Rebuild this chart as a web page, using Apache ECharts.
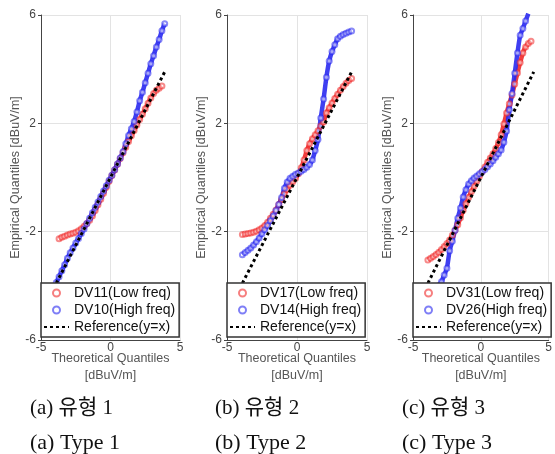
<!DOCTYPE html>
<html><head><meta charset="utf-8">
<script src="https://cdn.jsdelivr.net/npm/echarts@6/dist/echarts.min.js"></script>
<style>html,body{margin:0;padding:0;background:#fff}#c{width:555px;height:454px}</style>
</head><body><div id="c"></div>
<script>
// Theoretical quantiles (shared x positions)
const qx = [-3.9,-3.7,-3.5,-3.3,-3.1,-2.9,-2.7,-2.5,-2.3,-2.1,-1.9,-1.7,-1.5,-1.3,-1.1,-0.9,-0.7,-0.5,-0.3,-0.1,
             0.1,0.3,0.5,0.7,0.9,1.1,1.3,1.5,1.7,1.9,2.1,2.3,2.5,2.7,2.9,3.1,3.3,3.5,3.7,3.9];
// Empirical quantiles
const p1Low  = [null,-2.26,-2.21,-2.17,-2.12,-2.09,-2.06,-2.02,-1.97,-1.89,-1.80,-1.70,-1.58,-1.42,-1.22,-1.01,-0.80,-0.58,-0.36,-0.14,
                0.07,0.28,0.49,0.70,0.91,1.12,1.33,1.54,1.74,1.94,2.14,2.34,2.54,2.74,2.94,3.10,3.22,3.30,3.38,null];
const p1High = [-3.88,-3.66,-3.44,-3.22,-2.98,-2.78,-2.60,-2.42,-2.25,-2.07,-1.90,-1.70,-1.50,-1.30,-1.10,-0.90,-0.70,-0.50,-0.30,-0.10,
                0.08,0.29,0.50,0.72,0.95,1.25,1.55,1.80,2.07,2.42,2.83,3.15,3.50,3.85,4.20,4.50,4.82,5.10,5.42,5.68];
const p2Low  = [-2.10,-2.09,-2.07,-2.05,-2.02,-1.98,-1.93,-1.86,-1.77,-1.65,-1.50,-1.36,-1.20,-1.00,-0.81,-0.60,-0.44,-0.29,-0.16,-0.03,
                0.14,0.36,0.65,1.00,1.25,1.43,1.58,1.73,1.90,2.05,2.38,2.58,2.75,2.92,3.07,3.22,3.36,3.48,3.58,3.66];
const p2High = [-2.85,-2.77,-2.69,-2.60,-2.49,-2.37,-2.23,-2.08,-1.93,-1.77,-1.60,-1.42,-1.22,-1.00,-0.74,-0.40,-0.17,-0.03,0.05,0.12,
                0.17,0.23,0.30,0.38,0.48,0.65,1.00,1.40,2.20,2.90,3.70,4.30,4.65,4.90,5.12,5.22,5.28,5.33,5.37,5.41];
const p3Low  = [-3.05,-2.98,-2.92,-2.84,-2.76,-2.66,-2.55,-2.44,-2.31,-2.13,-1.95,-1.74,-1.49,-1.21,-0.97,-0.74,-0.53,-0.33,-0.14,0.05,
                0.22,0.39,0.56,0.72,0.88,1.07,1.29,1.58,1.98,2.38,2.72,3.05,3.45,3.86,4.25,4.60,4.82,4.95,5.03,null];
const p3High = [-5.30,-4.90,-4.55,-4.25,-4.00,-3.85,-3.60,-3.35,-2.70,-2.35,-1.95,-1.50,-1.13,-0.72,-0.45,-0.24,-0.12,-0.02,0.06,0.14,
                0.21,0.30,0.40,0.50,0.62,0.75,0.88,1.02,1.30,1.72,2.50,3.10,3.85,4.60,5.25,5.50,5.78,6.05,null,null];
const refX = [-3.9, 3.9];
// Names and tick values
const lowNames  = ['DV11(Low freq)','DV17(Low freq)','DV31(Low freq)'];
const highNames = ['DV10(High freq)','DV14(High freq)','DV26(High freq)'];
const refName = 'Reference(y=x)';
const xTicks = [-5, 0, 5];
const yTicks = [-6, -2, 2, 6];
const captionsKo = ['(a) 유형 1','(b) 유형 2','(c) 유형 3'];
const captionsEn = ['(a) Type 1','(b) Type 2','(c) Type 3'];

const lows = [p1Low, p2Low, p3Low];
const highs = [p1High, p2High, p3High];
const gridLefts = [41, 227, 413];
const gridWidths = [139, 140, 141];
const capX = [30, 215, 402];

const pairs = ys => qx.map((x,i)=> ys[i]==null ? null : [x, ys[i]]).filter(d=>d);
const FONT = '"Liberation Sans", Arial, sans-serif';
const RED = '#f02a2a', BLUE = '#2a2af0';

const grid = [], xAxis = [], yAxis = [], series = [], legend = [], graphic = [];
for (let k=0;k<3;k++){
  grid.push({left: gridLefts[k], top: 15, width: gridWidths[k], height: 325, containLabel: false});
  xAxis.push({
    gridIndex:k, type:'value', min:xTicks[0], max:xTicks[xTicks.length-1], interval:5,
    name:'Theoretical Quantiles\n[dBuV/m]', nameLocation:'middle', nameGap:10, nameMoveOverlap:false,
    nameTextStyle:{fontFamily:FONT, fontSize:12.5, color:'#555', lineHeight:17, verticalAlign:'top'},
    axisLine:{show:true, onZero:false, lineStyle:{color:'#444', width:1}},
    axisTick:{show:false},
    axisLabel:{fontFamily:FONT, fontSize:12, color:'#444', margin:2},
    splitLine:{show:true, lineStyle:{color:'#e3e3e3', width:1}}
  });
  yAxis.push({
    gridIndex:k, type:'value', min:yTicks[0], max:yTicks[yTicks.length-1], interval:4,
    name:'Empirical Quantiles [dBuV/m]', nameLocation:'middle', nameGap:19, nameMoveOverlap:false,
    nameTextStyle:{fontFamily:FONT, fontSize:12.5, color:'#555'},
    axisLine:{show:true, onZero:false, lineStyle:{color:'#444', width:1}},
    axisTick:{show:true, length:3, lineStyle:{color:'#444'}},
    axisLabel:{fontFamily:FONT, fontSize:12, color:'#444', margin:5},
    splitLine:{show:true, lineStyle:{color:'#e3e3e3', width:1}}
  });
  const mk = (name, ys, col) => ({
    name, type:'line', xAxisIndex:k, yAxisIndex:k, data:pairs(ys), smooth:0.2,
    symbol:'emptyCircle', symbolSize:5, showSymbol:true, clip:true,
    itemStyle:{color:col, borderWidth:0.8, opacity:0.55},
    lineStyle:{color:col, width:4.5, opacity:0.9},
    emphasis:{disabled:true}, animation:false, z:2
  });
  series.push(mk(lowNames[k], lows[k], RED));
  series.push(mk(highNames[k], highs[k], BLUE));
  series.push({
    name: refName, type:'line', xAxisIndex:k, yAxisIndex:k,
    data: refX.map(v=>[v,v]), symbol:'none', showSymbol:false,
    lineStyle:{color:'#000', width:3, type:[3,3]}, itemStyle:{color:'#000'},
    emphasis:{disabled:true}, animation:false, z:3
  });
  legend.push({
    left: gridLefts[k], top: 283, orient:'vertical',
    data:[{name:lowNames[k], icon:'emptyCircle', itemStyle:{opacity:0.6}},
          {name:highNames[k], icon:'emptyCircle', itemStyle:{opacity:0.6}},
          {name:refName, itemStyle:{opacity:0}}],
    itemWidth:25, itemHeight:7, itemGap:1, padding:[2,4,2,2],
    backgroundColor:'#fff', borderColor:'#333', borderWidth:1.5,
    textStyle:{fontFamily:FONT, fontSize:14, color:'#111', lineHeight:16},
    selectedMode:false, z:10
  });
  graphic.push({type:'text', left:capX[k], top:398, style:{text:captionsKo[k], font:'21px "Liberation Serif", "Noto Sans CJK KR", serif', fill:'#111'}});
  graphic.push({type:'text', left:capX[k], top:432, style:{text:captionsEn[k], font:'22px "Liberation Serif", serif', fill:'#111'}});
}

const chart = echarts.init(document.getElementById('c'), null, {renderer:'canvas'});
chart.setOption({animation:false, grid, xAxis, yAxis, series, legend, graphic});
</script></body></html>
